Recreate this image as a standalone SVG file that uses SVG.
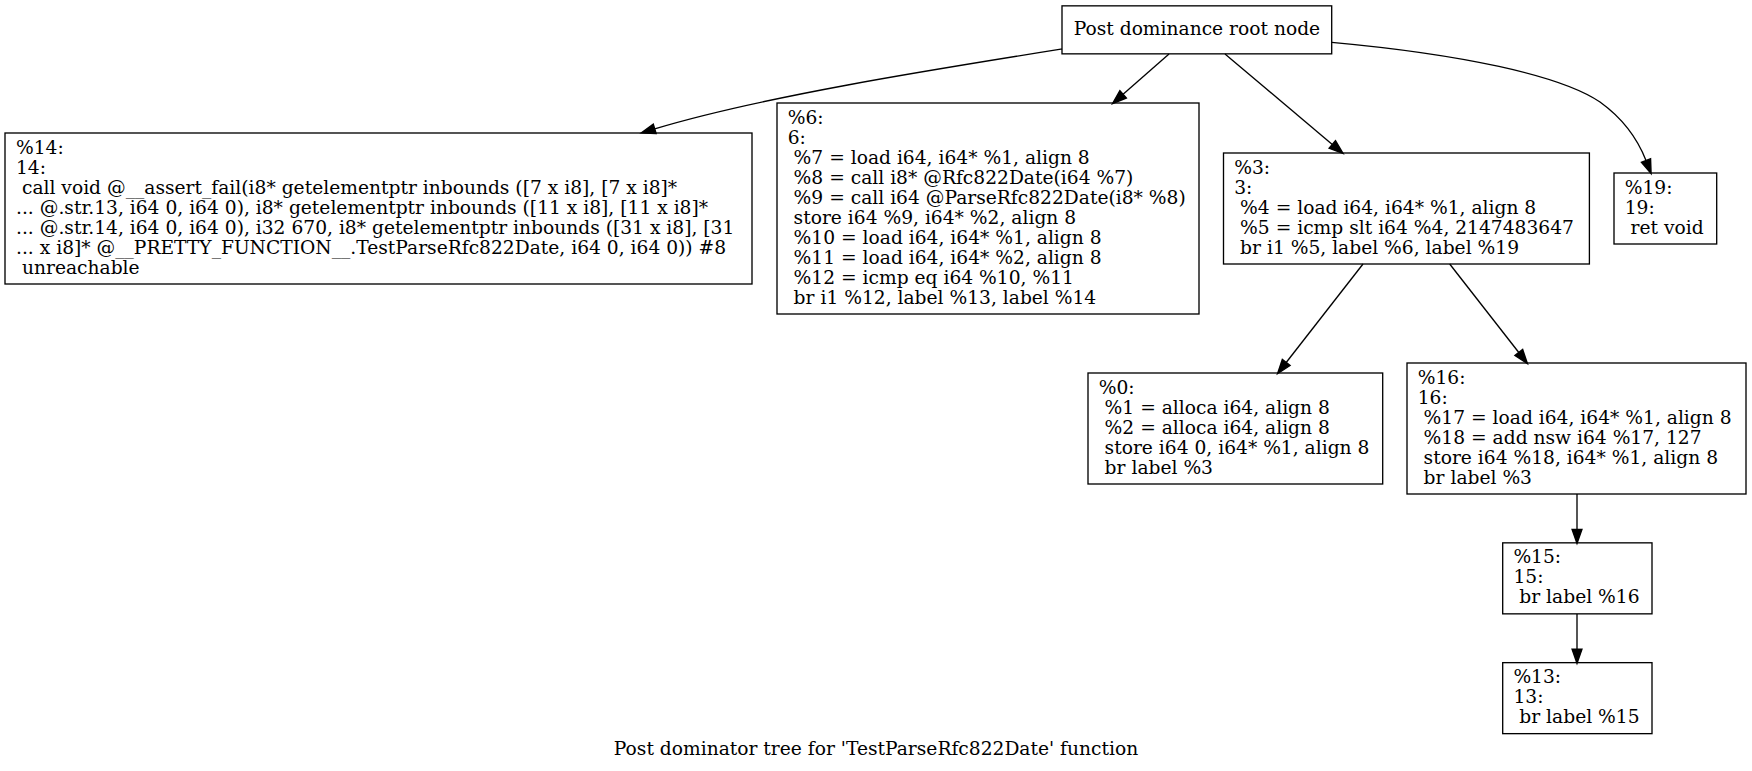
<svg xmlns="http://www.w3.org/2000/svg" width="1752" height="771" viewBox="0 0 1752 771">
<style>
.box{fill:none;stroke:#000;stroke-width:1.33}
.edge{fill:none;stroke:#000;stroke-width:1.33;marker-end:url(#ah)}
text{font-family:"DejaVu Serif","Liberation Serif",serif;font-size:18.67px;fill:#000;white-space:pre}
</style>
<defs>
<marker id="ah" markerUnits="userSpaceOnUse" markerWidth="14" markerHeight="10" viewBox="0 0 13.33 9.33" refX="0" refY="4.67" orient="auto" overflow="visible">
<path d="M0,0 L13.33,4.67 L0,9.33 z" fill="#000" stroke="#000" stroke-width="1.33"/>
</marker>
</defs>
<rect x="0" y="0" width="1752" height="771" fill="#fff"/>
<g id="connectors">
<path class="edge" d="M1062,49 C930,70 760,97 654.7,128.9"/>
<path class="edge" d="M1169,54 L1123.1,94.3"/>
<path class="edge" d="M1225,54 L1332.3,144.4"/>
<path class="edge" d="M1331.7,42.3 C1460,54 1560,75 1600,102 C1625,120 1638,140 1646,160.5"/>
<path class="edge" d="M1363,264 L1286.2,362.5"/>
<path class="edge" d="M1449.7,264 L1518.8,352.5"/>
<path class="edge" d="M1577,494 L1577,529.5"/>
<path class="edge" d="M1577,613.9 L1577,649.3"/>
</g>
<g id="root">
<rect class="box" x="1062" y="5.85" width="269.7" height="48"/>
<text x="1196.9" y="34.85" text-anchor="middle">Post dominance root node</text>
</g>
<g id="n14">
<rect class="box" x="5" y="133" width="747" height="151"/>
<text x="16" y="153.5">%14:</text>
<text x="16" y="173.5">14:</text>
<text x="16" y="193.5" xml:space="preserve"> call void @__assert_fail(i8* getelementptr inbounds ([7 x i8], [7 x i8]*</text>
<text x="16" y="213.5">... @.str.13, i64 0, i64 0), i8* getelementptr inbounds ([11 x i8], [11 x i8]*</text>
<text x="16" y="233.5">... @.str.14, i64 0, i64 0), i32 670, i8* getelementptr inbounds ([31 x i8], [31</text>
<text x="16" y="253.5">... x i8]* @__PRETTY_FUNCTION__.TestParseRfc822Date, i64 0, i64 0)) #8</text>
<text x="16" y="273.5" xml:space="preserve"> unreachable</text>
</g>
<g id="n6">
<rect class="box" x="777" y="103" width="422" height="211"/>
<text x="787.7" y="123.5">%6:</text>
<text x="787.7" y="143.5">6:</text>
<text x="787.7" y="163.5" xml:space="preserve"> %7 = load i64, i64* %1, align 8</text>
<text x="787.7" y="183.5" xml:space="preserve"> %8 = call i8* @Rfc822Date(i64 %7)</text>
<text x="787.7" y="203.5" xml:space="preserve"> %9 = call i64 @ParseRfc822Date(i8* %8)</text>
<text x="787.7" y="223.5" xml:space="preserve"> store i64 %9, i64* %2, align 8</text>
<text x="787.7" y="243.5" xml:space="preserve"> %10 = load i64, i64* %1, align 8</text>
<text x="787.7" y="263.5" xml:space="preserve"> %11 = load i64, i64* %2, align 8</text>
<text x="787.7" y="283.5" xml:space="preserve"> %12 = icmp eq i64 %10, %11</text>
<text x="787.7" y="303.5" xml:space="preserve"> br i1 %12, label %13, label %14</text>
</g>
<g id="n3">
<rect class="box" x="1223.5" y="153" width="365.9" height="111"/>
<text x="1234.2" y="173.5">%3:</text>
<text x="1234.2" y="193.5">3:</text>
<text x="1234.2" y="213.5" xml:space="preserve"> %4 = load i64, i64* %1, align 8</text>
<text x="1234.2" y="233.5" xml:space="preserve"> %5 = icmp slt i64 %4, 2147483647</text>
<text x="1234.2" y="253.5" xml:space="preserve"> br i1 %5, label %6, label %19</text>
</g>
<g id="n19">
<rect class="box" x="1614" y="173" width="102.7" height="71"/>
<text x="1624.7" y="193.5">%19:</text>
<text x="1624.7" y="213.5">19:</text>
<text x="1624.7" y="233.5" xml:space="preserve"> ret void</text>
</g>
<g id="n0">
<rect class="box" x="1088" y="373" width="294.7" height="111"/>
<text x="1098.7" y="393.5">%0:</text>
<text x="1098.7" y="413.5" xml:space="preserve"> %1 = alloca i64, align 8</text>
<text x="1098.7" y="433.5" xml:space="preserve"> %2 = alloca i64, align 8</text>
<text x="1098.7" y="453.5" xml:space="preserve"> store i64 0, i64* %1, align 8</text>
<text x="1098.7" y="473.5" xml:space="preserve"> br label %3</text>
</g>
<g id="n16">
<rect class="box" x="1407" y="363" width="339" height="131"/>
<text x="1417.7" y="383.5">%16:</text>
<text x="1417.7" y="403.5">16:</text>
<text x="1417.7" y="423.5" xml:space="preserve"> %17 = load i64, i64* %1, align 8</text>
<text x="1417.7" y="443.5" xml:space="preserve"> %18 = add nsw i64 %17, 127</text>
<text x="1417.7" y="463.5" xml:space="preserve"> store i64 %18, i64* %1, align 8</text>
<text x="1417.7" y="483.5" xml:space="preserve"> br label %3</text>
</g>
<g id="n15">
<rect class="box" x="1502.7" y="542.85" width="149.3" height="71"/>
<text x="1513.4" y="563.35">%15:</text>
<text x="1513.4" y="583.35">15:</text>
<text x="1513.4" y="603.35" xml:space="preserve"> br label %16</text>
</g>
<g id="n13">
<rect class="box" x="1502.7" y="662.65" width="149.3" height="71"/>
<text x="1513.4" y="683.15">%13:</text>
<text x="1513.4" y="703.15">13:</text>
<text x="1513.4" y="723.15" xml:space="preserve"> br label %15</text>
</g>
<text x="876" y="754.5" text-anchor="middle">Post dominator tree for 'TestParseRfc822Date' function</text>
</svg>
